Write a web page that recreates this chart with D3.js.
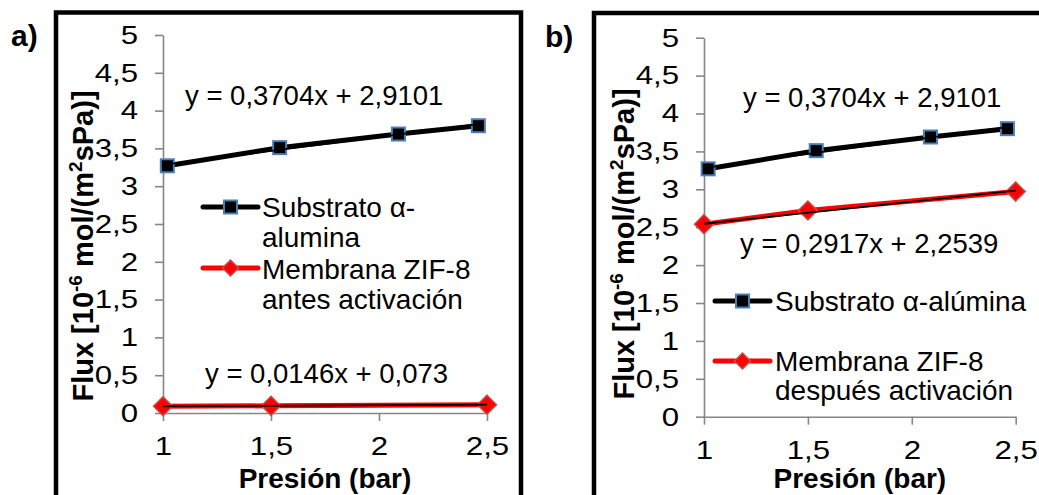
<!DOCTYPE html>
<html>
<head>
<meta charset="utf-8">
<script src="https://cdn.jsdelivr.net/npm/d3@7/dist/d3.min.js"></script>
<style>
  html, body { margin: 0; padding: 0; background: #fff; }
  svg { display: block; font-family: "Liberation Sans", Arial, sans-serif; }
</style>
</head>
<body>
<svg id="chart" width="1039" height="495"></svg>
<script>
// Pressure (bar) and flux [10^-6 mol/(m2 s Pa)] measurements
const pressureSubstrate = [1.02, 1.54, 2.09, 2.46];
const fluxSubstrate = [3.27, 3.51, 3.69, 3.80];
const pressureMembrane = [1, 1.5, 2.5];
const fluxMembraneBefore = [0.09, 0.095, 0.11];
const fluxMembraneAfter = [2.54, 2.72, 2.97];

// Linear trendlines: [slope, intercept]
const trendSubstrate = [0.3704, 2.9101];
const trendBefore = [0.0146, 0.073];
const trendAfter = [0.2917, 2.2539];

// Axis ticks
const yTicks = [0, 0.5, 1, 1.5, 2, 2.5, 3, 3.5, 4, 4.5, 5];
const xTicks = [1, 1.5, 2, 2.5];

// Text
const panelLabels = ["a)", "b)"];
const xTitle = "Presión (bar)";
const legendSubstrate = [["Substrato α-", "alumina"], ["Substrato α-alúmina"]];
const legendMembrane = [["Membrana ZIF-8", "antes activación"], ["Membrana ZIF-8", "después activación"]];

const fmt = d => String(d).replace(".", ",");
const eqText = t => `y = ${fmt(t[0])}x + ${fmt(t[1])}`;

const svg = d3.select("#chart");
const AXIS = "#868686";
const BLUE = "#4a7ebb";
const RED = "#ff0000";
const TICK_STRETCH = 1.2;   // tick numerals are set slightly wide

const panels = [
  {
    frame: [56, 12.5, 521], label: [11, 46],
    x0: 163, x1: 487, yTop: 35, yBot: 413,
    memb: fluxMembraneBefore, trendM: trendBefore,
    eqS: [185, 105], eqM: [205, 383],
    legS: { lineY: 207, x0: 203, x1: 258, textX: 262, base: 217 },
    legM: { lineY: 268, x0: 203, x1: 258, textX: 262, base: 279 },
    lh: 30, yTitle: [93, 246]
  },
  {
    frame: [594, 13, 1045], label: [545, 47],
    x0: 704, x1: 1015.7, yTop: 37.7, yBot: 416.7,
    memb: fluxMembraneAfter, trendM: trendAfter,
    eqS: [743, 107], eqM: [740, 253],
    legS: { lineY: 301, x0: 715, x1: 770, textX: 775, base: 311 },
    legM: { lineY: 361, x0: 715, x1: 770, textX: 775, base: 371 },
    lh: 29, yTitle: [634, 244]
  }
];

function square(g, cx, cy) {
  g.append("rect").attr("x", cx - 6.5).attr("y", cy - 6.5).attr("width", 13).attr("height", 13)
    .attr("fill", "#000").attr("stroke", BLUE).attr("stroke-width", 2);
}
function diamond(g, cx, cy, r) {
  g.append("path").attr("d", `M${cx},${cy - r}L${cx + r},${cy}L${cx},${cy + r}L${cx - r},${cy}Z`)
    .attr("fill", RED).attr("stroke", "#c0504d").attr("stroke-width", 1.5);
}

panels.forEach((p, i) => {
  const g = svg.append("g");
  const x = d3.scaleLinear().domain([1, 2.5]).range([p.x0, p.x1]);
  const y = d3.scaleLinear().domain([0, 5]).range([p.yBot, p.yTop]);

  // frame around the panel (open at the bottom)
  const [fx, fy, fr] = p.frame;
  g.append("path").attr("d", `M${fx},500V${fy}H${fr}V500`)
    .attr("fill", "none").attr("stroke", "#000").attr("stroke-width", 4.5);

  g.append("text").attr("x", p.label[0]).attr("y", p.label[1])
    .attr("font-size", 30).attr("font-weight", "bold").text(panelLabels[i]);

  // axes
  const yAxis = g.append("g").attr("transform", `translate(${p.x0},0)`)
    .call(d3.axisLeft(y).tickValues(yTicks).tickFormat(fmt).tickSize(8).tickSizeOuter(0).tickPadding(17));
  const xAxis = g.append("g").attr("transform", `translate(0,${p.yBot})`)
    .call(d3.axisBottom(x).tickValues(xTicks).tickFormat(fmt).tickSize(8).tickSizeOuter(0).tickPadding(16));
  [yAxis, xAxis].forEach(a => {
    a.selectAll("path, line").attr("stroke", AXIS).attr("stroke-width", 1.6);
    a.selectAll("text").attr("font-size", 26).attr("fill", "#000")
      .attr("font-family", "'Liberation Sans', Arial, sans-serif");
  });
  // widen numerals around their anchor point
  yAxis.selectAll(".tick text").attr("x", 0)
    .attr("transform", `translate(-25,0) scale(${TICK_STRETCH},1)`);
  xAxis.selectAll(".tick text").attr("transform", `scale(${TICK_STRETCH},1)`);

  // axis titles
  g.append("text").attr("x", (p.x0 + p.x1) / 2).attr("y", 488).attr("text-anchor", "middle")
    .attr("font-size", 28).attr("font-weight", "bold").text(xTitle);
  const yt = g.append("text").attr("text-anchor", "middle").attr("font-size", 29).attr("font-weight", "bold")
    .attr("transform", `translate(${p.yTitle[0]},${p.yTitle[1]}) rotate(-90)`);
  yt.append("tspan").text("Flux [10");
  yt.append("tspan").attr("dy", -11).attr("font-size", 19).text("-6");
  yt.append("tspan").attr("dy", 11).text(" mol/(m");
  yt.append("tspan").attr("dy", -11).attr("font-size", 19).text("2");
  yt.append("tspan").attr("dy", 11).text("sPa)]");

  const line = d3.line().x(d => x(d[0])).y(d => y(d[1]));

  const sData = pressureSubstrate.map((v, k) => [v, fluxSubstrate[k]]);
  const mData = pressureMembrane.map((v, k) => [v, p.memb[k]]);

  // membrane series
  g.append("path").datum(mData).attr("d", line)
    .attr("fill", "none").attr("stroke", RED).attr("stroke-width", 5).attr("stroke-linejoin", "round");
  mData.forEach(d => diamond(g, x(d[0]), y(d[1]), 9.5));

  // substrate series
  g.append("path").datum(sData).attr("d", line)
    .attr("fill", "none").attr("stroke", "#000").attr("stroke-width", 5).attr("stroke-linejoin", "round");
  sData.forEach(d => square(g, x(d[0]), y(d[1])));

  // trendlines
  const trendLine = (t, xs) => [[xs[0], t[0] * xs[0] + t[1]], [xs[1], t[0] * xs[1] + t[1]]];
  g.append("path").datum(trendLine(trendSubstrate, d3.extent(pressureSubstrate))).attr("d", line)
    .attr("fill", "none").attr("stroke", "#000").attr("stroke-width", 1.8);
  g.append("path").datum(trendLine(p.trendM, d3.extent(pressureMembrane))).attr("d", line)
    .attr("fill", "none").attr("stroke", "#000").attr("stroke-width", 1.8);

  // trendline equations
  g.append("text").attr("x", p.eqS[0]).attr("y", p.eqS[1]).attr("font-size", 27.5).text(eqText(trendSubstrate));
  g.append("text").attr("x", p.eqM[0]).attr("y", p.eqM[1]).attr("font-size", 27.5).text(eqText(p.trendM));

  // legend
  const lS = p.legS, lM = p.legM;
  g.append("line").attr("x1", lS.x0).attr("x2", lS.x1).attr("y1", lS.lineY).attr("y2", lS.lineY)
    .attr("stroke", "#000").attr("stroke-width", 5).attr("stroke-linecap", "round");
  square(g, (lS.x0 + lS.x1) / 2, lS.lineY);
  legendSubstrate[i].forEach((s, k) => g.append("text").attr("x", lS.textX).attr("y", lS.base + k * p.lh)
    .attr("font-size", 28).text(s));

  g.append("line").attr("x1", lM.x0).attr("x2", lM.x1).attr("y1", lM.lineY).attr("y2", lM.lineY)
    .attr("stroke", RED).attr("stroke-width", 5).attr("stroke-linecap", "round");
  diamond(g, (lM.x0 + lM.x1) / 2, lM.lineY, 8);
  legendMembrane[i].forEach((s, k) => g.append("text").attr("x", lM.textX).attr("y", lM.base + k * p.lh)
    .attr("font-size", 28).text(s));
});
</script>
</body>
</html>
